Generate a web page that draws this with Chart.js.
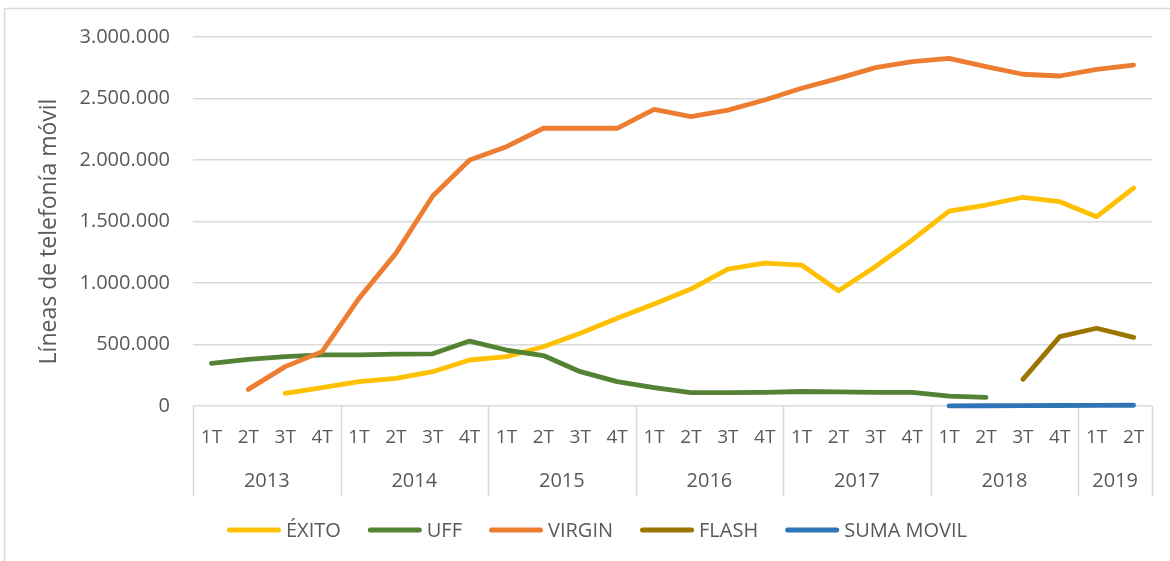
<!DOCTYPE html>
<html><head><meta charset="utf-8">
<script src="https://cdn.jsdelivr.net/npm/chart.js@4/dist/chart.umd.min.js"></script>
<style>html,body{margin:0;padding:0;background:#fff;}#wrap{width:1170px;height:561px;position:relative;}canvas{display:block;}</style>
</head><body><div id="wrap"><canvas id="c" width="1170" height="561"></canvas></div>
<script>
const quarters = ["1T","2T","3T","4T","1T","2T","3T","4T","1T","2T","3T","4T","1T","2T","3T","4T","1T","2T","3T","4T","1T","2T","3T","4T","1T","2T"];
const years = ["2013","2014","2015","2016","2017","2018","2019"];
const quartersPerYear = [4,4,4,4,4,4,2];
const yTicks = [0,500000,1000000,1500000,2000000,2500000,3000000];
const yTitle = 'Líneas de telefonía móvil';

const exito = [null,null,103000,149000,198000,225000,279000,374000,401000,482000,591000,713000,830000,951000,1113000,1162000,1146000,937000,1133000,1350000,1585000,1634000,1697000,1661000,1539000,1772000];
const uff = [347000,379000,401000,415000,415000,421000,424000,528000,455000,410000,279000,198000,150000,108000,108000,110000,118000,115000,110000,110000,81000,70000,null,null,null,null];
const virgin = [null,135000,320000,442000,875000,1241000,1707000,2000000,2108000,2258000,2258000,2258000,2412000,2352000,2406000,2488000,2583000,2664000,2751000,2799000,2826000,2759000,2697000,2683000,2737000,2772000];
const flash = [null,null,null,null,null,null,null,null,null,null,null,null,null,null,null,null,null,null,null,null,null,null,217000,564000,632000,558000];
const sumaMovil = [null,null,null,null,null,null,null,null,null,null,null,null,null,null,null,null,null,null,null,null,1000,2000,3000,4000,5000,6000];

const seriesNames = ["ÉXITO","UFF","VIRGIN","FLASH","SUMA MOVIL"];
const seriesData = [exito, uff, virgin, flash, sumaMovil];
const seriesColors = ["#FFC000","#548235","#ED7D31","#9C7400","#2E75B6"];

const TXT = '#595959';
const GRID = '#d9d9d9';
const FONT = 'Open Sans';

function fmt(v){ return String(Math.round(v)).replace(/\B(?=(\d{3})+(?!\d))/g, '.'); }

const framePlugin = {
  id:'frame',
  beforeDraw(chart){
    const ctx = chart.ctx;
    ctx.save();
    ctx.fillStyle = '#fff';
    ctx.fillRect(0,0,chart.width,chart.height);
    ctx.strokeStyle = GRID; ctx.lineWidth = 1.5;
    ctx.beginPath();
    ctx.moveTo(4.5, chart.height); ctx.lineTo(4.5, 8.5); ctx.lineTo(chart.width, 8.5);
    ctx.stroke();
    ctx.restore();
  },
  afterDraw(chart){
    const ctx = chart.ctx, a = chart.chartArea;
    ctx.save();
    ctx.translate(49, (a.top + a.bottom) / 2 + 10);
    ctx.rotate(-Math.PI / 2);
    ctx.fillStyle = TXT; ctx.font = '23px "' + FONT + '"';
    ctx.textAlign = 'center'; ctx.textBaseline = 'middle';
    ctx.fillText(yTitle, 0, 0);
    ctx.restore();
  }
};

const yearAxisPlugin = {
  id:'yearAxis',
  beforeDatasetsDraw(chart){
    const xs = chart.scales.x, ctx = chart.ctx;
    const half = (xs.getPixelForValue(1) - xs.getPixelForValue(0)) / 2;
    const top = chart.chartArea.bottom, bot = top + 90;
    ctx.save();
    ctx.strokeStyle = GRID; ctx.lineWidth = 1.5;
    ctx.fillStyle = TXT; ctx.font = '20px "' + FONT + '"';
    ctx.textAlign = 'center'; ctx.textBaseline = 'middle';
    const edges = [xs.getPixelForValue(0) - half];
    let idx = 0;
    quartersPerYear.forEach((n, k) => {
      const start = xs.getPixelForValue(idx) - half;
      const end = xs.getPixelForValue(idx + n - 1) + half;
      edges.push(end);
      ctx.fillText(years[k], (start + end) / 2, top + 75);
      idx += n;
    });
    edges.forEach(e => {
      const px = Math.round(e) + 0.5;
      ctx.beginPath(); ctx.moveTo(px, top); ctx.lineTo(px, bot); ctx.stroke();
    });
    ctx.restore();
  }
};

const legendPlugin = {
  id:'customLegend',
  afterDraw(chart){
    const ctx = chart.ctx;
    ctx.save();
    ctx.font = '20px "' + FONT + '"';
    ctx.textBaseline = 'middle'; ctx.textAlign = 'left';
    const y = 530, lineW = 54, gap = 5, itemGap = 27;
    let total = 0;
    seriesNames.forEach(n => { total += lineW + gap + ctx.measureText(n).width; });
    total += itemGap * (seriesNames.length - 1);
    let x = 597 - total / 2;
    seriesNames.forEach((n, i) => {
      ctx.strokeStyle = seriesColors[i]; ctx.lineWidth = 5; ctx.lineCap = 'round';
      ctx.beginPath(); ctx.moveTo(x + 2.5, y); ctx.lineTo(x + lineW - 2.5, y); ctx.stroke();
      ctx.fillStyle = TXT;
      ctx.fillText(n, x + lineW + gap, y + 1);
      x += lineW + gap + ctx.measureText(n).width + itemGap;
    });
    ctx.restore();
  }
};

const datasets = seriesNames.map((n, i) => ({
  label: n,
  data: seriesData[i],
  borderColor: seriesColors[i],
  backgroundColor: seriesColors[i],
  borderWidth: 4.8,
  borderCapStyle: 'round',
  borderJoinStyle: 'round',
  pointRadius: 0,
  tension: 0,
  spanGaps: false,
  clip: 8,
  order: seriesNames.length - i
}));

new Chart(document.getElementById('c'), {
  type: 'line',
  data: { labels: quarters, datasets },
  options: {
    responsive: false,
    animation: false,
    devicePixelRatio: 1,
    layout: { padding: { left: 0, right: 18, top: 37, bottom: 0 } },
    plugins: { legend: { display: false }, tooltip: { enabled: false } },
    scales: {
      x: {
        offset: true,
        grid: { display: false, drawTicks: false },
        border: { display: false },
        ticks: { autoSkip: false, maxRotation: 0, minRotation: 0, color: TXT, font: { family: FONT, size: 19 }, padding: 20 },
        afterFit(s){ s.height = 155; }
      },
      y: {
        min: 0, max: 3000000,
        afterBuildTicks(s){ s.ticks = yTicks.map(v => ({ value: v })); },
        ticks: { callback: v => fmt(v), color: TXT, font: { family: FONT, size: 20 }, padding: 23 },
        grid: { color: GRID, lineWidth: 1.5, drawTicks: false },
        border: { display: false },
        afterFit(s){ s.width = 193; }
      }
    }
  },
  plugins: [framePlugin, yearAxisPlugin, legendPlugin]
});
</script>
</body></html>
